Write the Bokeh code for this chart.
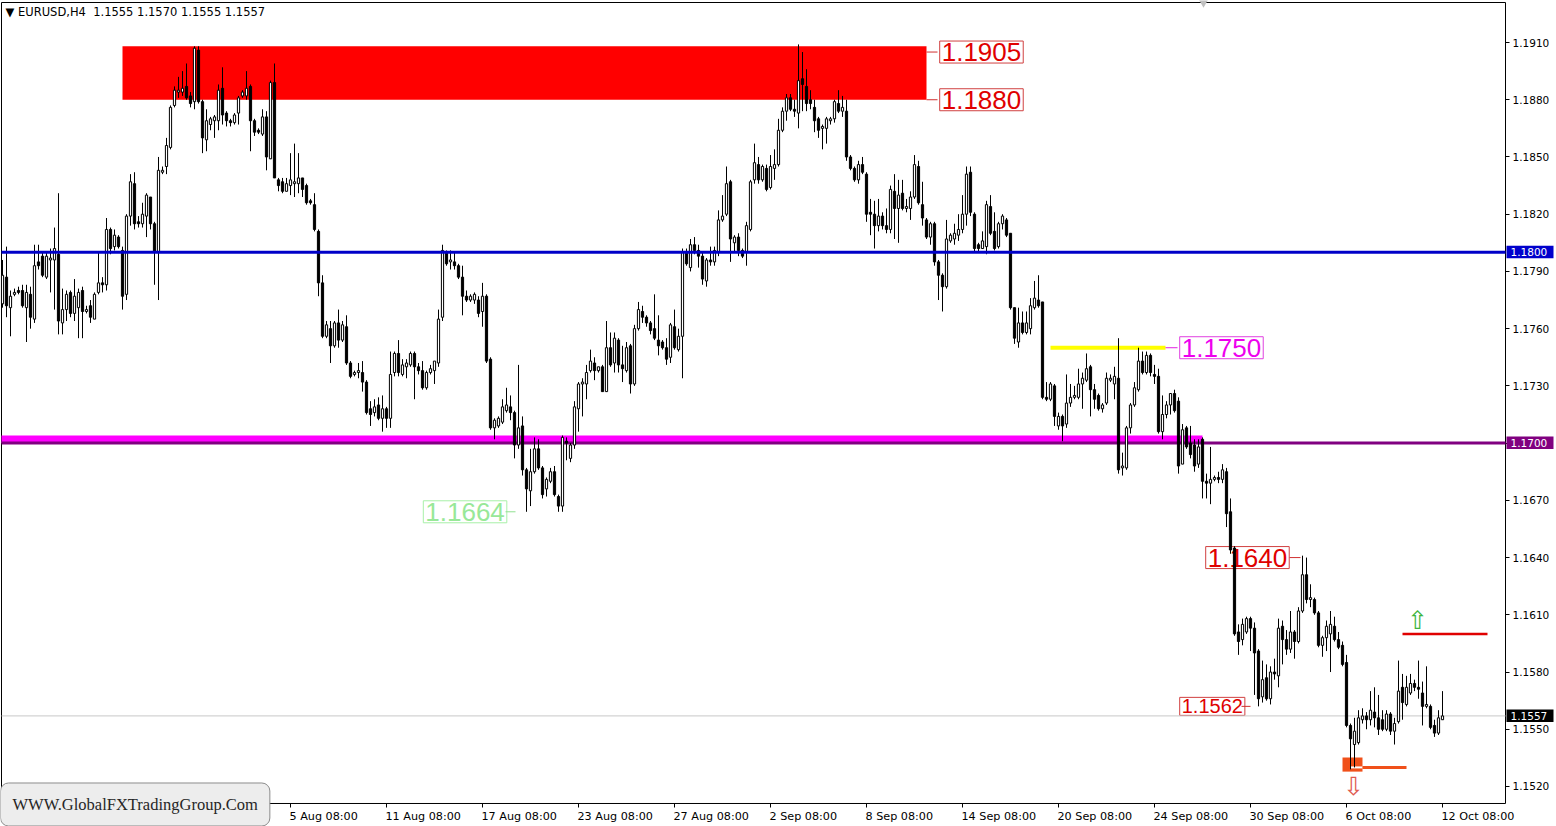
from bokeh.plotting import figure
from bokeh.models import (Range1d, FixedTicker, PrintfTickFormatter, Label, LabelSet,
                          ColumnDataSource)
from bokeh.core.properties import value
from bokeh.embed import file_html
from bokeh.resources import INLINE

# ---------------- data (EURUSD H4) ----------------
opens = [
    1.1773, 1.1787, 1.1771, 1.1778, 1.1780, 1.1780, 1.1771, 1.1778, 1.1765, 1.1795,
    1.1798, 1.1787, 1.1796, 1.1796, 1.1799, 1.1763, 1.1770, 1.1779, 1.1768, 1.1771,
    1.1780, 1.1769, 1.1772, 1.1765, 1.1779, 1.1784, 1.1783, 1.1812, 1.1803, 1.1808,
    1.1801, 1.1778, 1.1819, 1.1836, 1.1816, 1.1815, 1.1819, 1.1829, 1.1815, 1.1800,
    1.1842, 1.1845, 1.1855, 1.1877, 1.1884, 1.1884, 1.1887, 1.1882, 1.1879, 1.1906,
    1.1879, 1.1859, 1.1867, 1.1869, 1.1869, 1.1886, 1.1873, 1.1869, 1.1868, 1.1873,
    1.1882, 1.1882, 1.1887, 1.1869, 1.1864, 1.1862, 1.1871, 1.1849, 1.1889, 1.1838,
    1.1837, 1.1832, 1.1835, 1.1836, 1.1836, 1.1839, 1.1835, 1.1827, 1.1825, 1.1811,
    1.1784, 1.1756, 1.1760, 1.1751, 1.1763, 1.1754, 1.1761, 1.1742, 1.1736, 1.1737,
    1.1737, 1.1732, 1.1718, 1.1716, 1.1720, 1.1713, 1.1718, 1.1713, 1.1737, 1.1747,
    1.1736, 1.1740, 1.1741, 1.1747, 1.1740, 1.1738, 1.1729, 1.1737, 1.1738, 1.1742,
    1.1766, 1.1800, 1.1795, 1.1795, 1.1793, 1.1787, 1.1777, 1.1775, 1.1775, 1.1775,
    1.1769, 1.1777, 1.1744, 1.1708, 1.1709, 1.1711, 1.1717, 1.1719, 1.1716, 1.1699,
    1.1709, 1.1686, 1.1675, 1.1685, 1.1697, 1.1687, 1.1676, 1.1680, 1.1685, 1.1672,
    1.1667, 1.1701, 1.1692, 1.1699, 1.1718, 1.1731, 1.1731, 1.1738, 1.1742, 1.1738,
    1.1740, 1.1727, 1.1750, 1.1742, 1.1754, 1.1741, 1.1738, 1.1751, 1.1731, 1.1760,
    1.1769, 1.1766, 1.1763, 1.1760, 1.1754, 1.1753, 1.1750, 1.1745, 1.1761, 1.1749,
    1.1756, 1.1800, 1.1792, 1.1804, 1.1801, 1.1798, 1.1785, 1.1796, 1.1795, 1.1800,
    1.1817, 1.1820, 1.1837, 1.1805, 1.1808, 1.1801, 1.1800, 1.1812, 1.1838, 1.1846,
    1.1838, 1.1844, 1.1834, 1.1844, 1.1846, 1.1864, 1.1874, 1.1881, 1.1875, 1.1873,
    1.1891, 1.1887, 1.1880, 1.1876, 1.1870, 1.1865, 1.1865, 1.1869, 1.1870, 1.1878,
    1.1874, 1.1874, 1.1850, 1.1844, 1.1838, 1.1846, 1.1841, 1.1821, 1.1820, 1.1814,
    1.1819, 1.1814, 1.1812, 1.1832, 1.1823, 1.1831, 1.1823, 1.1823, 1.1829, 1.1845,
    1.1825, 1.1817, 1.1808, 1.1815, 1.1795, 1.1788, 1.1782, 1.1806, 1.1807, 1.1809,
    1.1812, 1.1820, 1.1842, 1.1820, 1.1804, 1.1802, 1.1803, 1.1824, 1.1811, 1.1803,
    1.1815, 1.1817, 1.1810, 1.1771, 1.1753, 1.1763, 1.1758, 1.1760, 1.1771, 1.1775,
    1.1774, 1.1724, 1.1723, 1.1730, 1.1709, 1.1714, 1.1710, 1.1721, 1.1724, 1.1724,
    1.1731, 1.1733, 1.1740, 1.1728, 1.1725, 1.1718, 1.1721, 1.1733, 1.1731, 1.1734,
    1.1687, 1.1687, 1.1708, 1.1720, 1.1728, 1.1743, 1.1737, 1.1746, 1.1736, 1.1735,
    1.1706, 1.1715, 1.1720, 1.1726, 1.1722, 1.1689, 1.1708, 1.1700, 1.1699, 1.1689,
    1.1702, 1.1680, 1.1679, 1.1681, 1.1682, 1.1681, 1.1685, 1.1664, 1.1645, 1.1601,
    1.1597, 1.1601, 1.1608, 1.1603, 1.1591, 1.1567, 1.1577, 1.1566, 1.1580, 1.1578,
    1.1604, 1.1597, 1.1592, 1.1601, 1.1596, 1.1612, 1.1631, 1.1618, 1.1618, 1.1611,
    1.1594, 1.1598, 1.1600, 1.1604, 1.1597, 1.1594, 1.1585, 1.1552, 1.1542, 1.1543,
    1.1555, 1.1557, 1.1555, 1.1559, 1.1556, 1.1555, 1.1550, 1.1558, 1.1549, 1.1554,
    1.1572, 1.1563, 1.1569, 1.1574, 1.1572, 1.1569, 1.1562, 1.1562, 1.1552, 1.1548,
    1.1555,
]
highs = [
    1.1796, 1.1803, 1.1780, 1.1781, 1.1782, 1.1783, 1.1783, 1.1782, 1.1804, 1.1804,
    1.1800, 1.1800, 1.1802, 1.1813, 1.1831, 1.1781, 1.1780, 1.1780, 1.1786, 1.1781,
    1.1782, 1.1772, 1.1775, 1.1779, 1.1800, 1.1787, 1.1818, 1.1813, 1.1812, 1.1809,
    1.1803, 1.1820, 1.1841, 1.1842, 1.1819, 1.1826, 1.1831, 1.1829, 1.1816, 1.1850,
    1.1845, 1.1860, 1.1877, 1.1887, 1.1892, 1.1895, 1.1899, 1.1884, 1.1908, 1.1908,
    1.1880, 1.1875, 1.1871, 1.1872, 1.1888, 1.1897, 1.1874, 1.1870, 1.1873, 1.1882,
    1.1885, 1.1895, 1.1888, 1.1870, 1.1865, 1.1875, 1.1874, 1.1890, 1.1899, 1.1839,
    1.1839, 1.1839, 1.1852, 1.1857, 1.1852, 1.1839, 1.1836, 1.1828, 1.1831, 1.1812,
    1.1788, 1.1764, 1.1764, 1.1764, 1.1770, 1.1764, 1.1767, 1.1743, 1.1738, 1.1742,
    1.1743, 1.1733, 1.1722, 1.1723, 1.1724, 1.1725, 1.1719, 1.1748, 1.1748, 1.1754,
    1.1744, 1.1744, 1.1748, 1.1748, 1.1742, 1.1743, 1.1738, 1.1741, 1.1743, 1.1770,
    1.1804, 1.1801, 1.1801, 1.1800, 1.1794, 1.1793, 1.1780, 1.1778, 1.1779, 1.1777,
    1.1784, 1.1778, 1.1745, 1.1713, 1.1714, 1.1723, 1.1729, 1.1725, 1.1717, 1.1741,
    1.1714, 1.1687, 1.1697, 1.1703, 1.1702, 1.1688, 1.1682, 1.1687, 1.1688, 1.1673,
    1.1704, 1.1703, 1.1700, 1.1722, 1.1732, 1.1734, 1.1741, 1.1749, 1.1745, 1.1740,
    1.1741, 1.1764, 1.1758, 1.1758, 1.1755, 1.1751, 1.1753, 1.1752, 1.1762, 1.1774,
    1.1772, 1.1767, 1.1764, 1.1778, 1.1767, 1.1754, 1.1755, 1.1763, 1.1770, 1.1760,
    1.1802, 1.1802, 1.1807, 1.1808, 1.1804, 1.1800, 1.1797, 1.1803, 1.1803, 1.1822,
    1.1830, 1.1845, 1.1838, 1.1809, 1.1810, 1.1802, 1.1816, 1.1838, 1.1857, 1.1850,
    1.1846, 1.1846, 1.1851, 1.1854, 1.1870, 1.1876, 1.1883, 1.1883, 1.1880, 1.1909,
    1.1905, 1.1896, 1.1885, 1.1880, 1.1871, 1.1867, 1.1871, 1.1871, 1.1880, 1.1885,
    1.1882, 1.1880, 1.1851, 1.1845, 1.1848, 1.1850, 1.1842, 1.1828, 1.1827, 1.1828,
    1.1821, 1.1823, 1.1835, 1.1841, 1.1838, 1.1838, 1.1828, 1.1832, 1.1851, 1.1848,
    1.1837, 1.1818, 1.1816, 1.1816, 1.1796, 1.1789, 1.1817, 1.1810, 1.1815, 1.1820,
    1.1830, 1.1845, 1.1845, 1.1821, 1.1805, 1.1811, 1.1827, 1.1830, 1.1821, 1.1816,
    1.1820, 1.1818, 1.1810, 1.1771, 1.1771, 1.1769, 1.1769, 1.1776, 1.1785, 1.1788,
    1.1774, 1.1732, 1.1732, 1.1731, 1.1716, 1.1715, 1.1736, 1.1731, 1.1730, 1.1739,
    1.1737, 1.1747, 1.1741, 1.1731, 1.1726, 1.1721, 1.1737, 1.1736, 1.1740, 1.1755,
    1.1695, 1.1709, 1.1721, 1.1732, 1.1750, 1.1748, 1.1748, 1.1747, 1.1741, 1.1739,
    1.1725, 1.1722, 1.1726, 1.1728, 1.1724, 1.1710, 1.1709, 1.1709, 1.1702, 1.1702,
    1.1703, 1.1684, 1.1698, 1.1683, 1.1685, 1.1689, 1.1687, 1.1671, 1.1646, 1.1605,
    1.1608, 1.1609, 1.1609, 1.1606, 1.1592, 1.1586, 1.1584, 1.1583, 1.1587, 1.1608,
    1.1607, 1.1602, 1.1612, 1.1602, 1.1614, 1.1641, 1.1640, 1.1626, 1.1619, 1.1612,
    1.1599, 1.1607, 1.1612, 1.1609, 1.1601, 1.1596, 1.1589, 1.1553, 1.1556, 1.1560,
    1.1561, 1.1559, 1.1570, 1.1572, 1.1568, 1.1560, 1.1560, 1.1559, 1.1556, 1.1586,
    1.1579, 1.1578, 1.1579, 1.1576, 1.1586, 1.1575, 1.1583, 1.1563, 1.1555, 1.1560,
    1.1570,
]
lows = [
    1.1771, 1.1766, 1.1756, 1.1777, 1.1778, 1.1771, 1.1753, 1.1760, 1.1763, 1.1791,
    1.1787, 1.1786, 1.1779, 1.1770, 1.1757, 1.1757, 1.1764, 1.1766, 1.1764, 1.1755,
    1.1755, 1.1768, 1.1763, 1.1765, 1.1778, 1.1779, 1.1780, 1.1799, 1.1801, 1.1802,
    1.1770, 1.1775, 1.1814, 1.1812, 1.1813, 1.1813, 1.1808, 1.1812, 1.1783, 1.1775,
    1.1841, 1.1841, 1.1854, 1.1876, 1.1881, 1.1882, 1.1880, 1.1876, 1.1875, 1.1878,
    1.1852, 1.1853, 1.1864, 1.1860, 1.1864, 1.1867, 1.1866, 1.1866, 1.1867, 1.1867,
    1.1881, 1.1880, 1.1853, 1.1861, 1.1862, 1.1861, 1.1843, 1.1849, 1.1839, 1.1832,
    1.1831, 1.1832, 1.1830, 1.1829, 1.1831, 1.1829, 1.1825, 1.1825, 1.1811, 1.1777,
    1.1755, 1.1755, 1.1742, 1.1750, 1.1750, 1.1753, 1.1741, 1.1734, 1.1735, 1.1734,
    1.1727, 1.1715, 1.1709, 1.1714, 1.1712, 1.1706, 1.1708, 1.1708, 1.1735, 1.1735,
    1.1735, 1.1734, 1.1740, 1.1723, 1.1736, 1.1728, 1.1728, 1.1736, 1.1731, 1.1740,
    1.1764, 1.1793, 1.1791, 1.1791, 1.1786, 1.1767, 1.1774, 1.1774, 1.1773, 1.1766,
    1.1761, 1.1742, 1.1707, 1.1702, 1.1708, 1.1710, 1.1716, 1.1712, 1.1692, 1.1697,
    1.1683, 1.1664, 1.1667, 1.1684, 1.1686, 1.1671, 1.1672, 1.1679, 1.1672, 1.1664,
    1.1664, 1.1691, 1.1690, 1.1697, 1.1706, 1.1714, 1.1723, 1.1737, 1.1733, 1.1737,
    1.1727, 1.1727, 1.1740, 1.1737, 1.1737, 1.1732, 1.1737, 1.1726, 1.1730, 1.1759,
    1.1763, 1.1761, 1.1757, 1.1754, 1.1746, 1.1749, 1.1741, 1.1742, 1.1749, 1.1748,
    1.1734, 1.1793, 1.1790, 1.1799, 1.1792, 1.1783, 1.1782, 1.1793, 1.1793, 1.1798,
    1.1816, 1.1819, 1.1795, 1.1800, 1.1798, 1.1797, 1.1793, 1.1811, 1.1836, 1.1836,
    1.1837, 1.1832, 1.1833, 1.1838, 1.1845, 1.1863, 1.1869, 1.1874, 1.1871, 1.1865,
    1.1874, 1.1874, 1.1875, 1.1863, 1.1860, 1.1854, 1.1857, 1.1867, 1.1868, 1.1873,
    1.1871, 1.1848, 1.1843, 1.1837, 1.1836, 1.1841, 1.1816, 1.1809, 1.1802, 1.1811,
    1.1812, 1.1810, 1.1810, 1.1807, 1.1805, 1.1822, 1.1821, 1.1817, 1.1828, 1.1825,
    1.1814, 1.1807, 1.1804, 1.1793, 1.1775, 1.1769, 1.1781, 1.1805, 1.1804, 1.1806,
    1.1810, 1.1814, 1.1819, 1.1800, 1.1800, 1.1802, 1.1799, 1.1809, 1.1801, 1.1802,
    1.1812, 1.1808, 1.1770, 1.1752, 1.1750, 1.1757, 1.1757, 1.1757, 1.1770, 1.1771,
    1.1723, 1.1722, 1.1722, 1.1709, 1.1707, 1.1701, 1.1708, 1.1719, 1.1723, 1.1723,
    1.1718, 1.1732, 1.1714, 1.1718, 1.1717, 1.1716, 1.1720, 1.1732, 1.1723, 1.1684,
    1.1683, 1.1686, 1.1705, 1.1719, 1.1727, 1.1736, 1.1736, 1.1735, 1.1731, 1.1705,
    1.1702, 1.1713, 1.1715, 1.1716, 1.1684, 1.1689, 1.1697, 1.1692, 1.1685, 1.1687,
    1.1671, 1.1671, 1.1668, 1.1680, 1.1679, 1.1679, 1.1656, 1.1642, 1.1599, 1.1589,
    1.1594, 1.1600, 1.1591, 1.1568, 1.1562, 1.1564, 1.1565, 1.1563, 1.1576, 1.1572,
    1.1584, 1.1589, 1.1590, 1.1587, 1.1595, 1.1611, 1.1616, 1.1614, 1.1610, 1.1593,
    1.1588, 1.1591, 1.1580, 1.1596, 1.1592, 1.1583, 1.1551, 1.1529, 1.1530, 1.1542,
    1.1553, 1.1550, 1.1552, 1.1551, 1.1547, 1.1549, 1.1549, 1.1547, 1.1542, 1.1553,
    1.1555, 1.1562, 1.1568, 1.1570, 1.1566, 1.1552, 1.1561, 1.1550, 1.1546, 1.1547,
    1.1555,
]
closes = [
    1.1788, 1.1772, 1.1777, 1.1779, 1.1779, 1.1772, 1.1779, 1.1766, 1.1793, 1.1793,
    1.1788, 1.1798, 1.1797, 1.1802, 1.1764, 1.1770, 1.1778, 1.1768, 1.1777, 1.1779,
    1.1769, 1.1770, 1.1766, 1.1778, 1.1784, 1.1783, 1.1812, 1.1802, 1.1809, 1.1803,
    1.1777, 1.1819, 1.1837, 1.1815, 1.1815, 1.1820, 1.1830, 1.1815, 1.1800, 1.1843,
    1.1843, 1.1856, 1.1876, 1.1885, 1.1885, 1.1886, 1.1881, 1.1878, 1.1907, 1.1879,
    1.1860, 1.1869, 1.1870, 1.1871, 1.1885, 1.1872, 1.1869, 1.1868, 1.1872, 1.1881,
    1.1884, 1.1886, 1.1869, 1.1863, 1.1863, 1.1871, 1.1850, 1.1889, 1.1839, 1.1835,
    1.1832, 1.1836, 1.1838, 1.1837, 1.1839, 1.1833, 1.1826, 1.1826, 1.1812, 1.1784,
    1.1756, 1.1762, 1.1751, 1.1763, 1.1754, 1.1762, 1.1742, 1.1735, 1.1737, 1.1738,
    1.1732, 1.1716, 1.1715, 1.1719, 1.1713, 1.1718, 1.1713, 1.1736, 1.1747, 1.1737,
    1.1741, 1.1742, 1.1747, 1.1740, 1.1738, 1.1729, 1.1737, 1.1739, 1.1743, 1.1765,
    1.1801, 1.1794, 1.1796, 1.1793, 1.1787, 1.1777, 1.1775, 1.1777, 1.1778, 1.1768,
    1.1777, 1.1743, 1.1708, 1.1712, 1.1713, 1.1719, 1.1720, 1.1716, 1.1699, 1.1708,
    1.1686, 1.1676, 1.1685, 1.1697, 1.1687, 1.1673, 1.1681, 1.1685, 1.1673, 1.1667,
    1.1703, 1.1700, 1.1699, 1.1719, 1.1731, 1.1732, 1.1737, 1.1743, 1.1738, 1.1740,
    1.1727, 1.1750, 1.1741, 1.1755, 1.1741, 1.1739, 1.1750, 1.1731, 1.1760, 1.1770,
    1.1766, 1.1763, 1.1759, 1.1755, 1.1751, 1.1750, 1.1744, 1.1762, 1.1750, 1.1756,
    1.1800, 1.1794, 1.1804, 1.1801, 1.1798, 1.1786, 1.1796, 1.1795, 1.1801, 1.1817,
    1.1819, 1.1836, 1.1807, 1.1808, 1.1801, 1.1798, 1.1814, 1.1837, 1.1847, 1.1838,
    1.1845, 1.1833, 1.1845, 1.1846, 1.1864, 1.1874, 1.1881, 1.1875, 1.1874, 1.1890,
    1.1888, 1.1878, 1.1878, 1.1869, 1.1864, 1.1866, 1.1870, 1.1870, 1.1879, 1.1874,
    1.1876, 1.1850, 1.1844, 1.1838, 1.1846, 1.1842, 1.1820, 1.1820, 1.1814, 1.1819,
    1.1814, 1.1812, 1.1833, 1.1823, 1.1830, 1.1823, 1.1824, 1.1829, 1.1846, 1.1826,
    1.1818, 1.1808, 1.1815, 1.1795, 1.1788, 1.1782, 1.1807, 1.1809, 1.1810, 1.1812,
    1.1820, 1.1841, 1.1821, 1.1802, 1.1802, 1.1806, 1.1825, 1.1810, 1.1802, 1.1815,
    1.1819, 1.1809, 1.1771, 1.1755, 1.1763, 1.1758, 1.1763, 1.1772, 1.1776, 1.1772,
    1.1724, 1.1723, 1.1731, 1.1714, 1.1714, 1.1709, 1.1721, 1.1724, 1.1725, 1.1731,
    1.1734, 1.1739, 1.1728, 1.1723, 1.1718, 1.1720, 1.1734, 1.1734, 1.1735, 1.1686,
    1.1688, 1.1708, 1.1720, 1.1729, 1.1743, 1.1737, 1.1746, 1.1737, 1.1735, 1.1706,
    1.1715, 1.1720, 1.1726, 1.1717, 1.1688, 1.1707, 1.1698, 1.1694, 1.1688, 1.1698,
    1.1680, 1.1679, 1.1681, 1.1682, 1.1681, 1.1686, 1.1663, 1.1644, 1.1600, 1.1596,
    1.1605, 1.1608, 1.1603, 1.1590, 1.1566, 1.1576, 1.1566, 1.1580, 1.1579, 1.1603,
    1.1597, 1.1592, 1.1601, 1.1596, 1.1612, 1.1631, 1.1618, 1.1619, 1.1611, 1.1594,
    1.1598, 1.1604, 1.1605, 1.1597, 1.1593, 1.1584, 1.1552, 1.1545, 1.1549, 1.1556,
    1.1557, 1.1555, 1.1560, 1.1556, 1.1550, 1.1550, 1.1558, 1.1549, 1.1553, 1.1570,
    1.1564, 1.1572, 1.1574, 1.1572, 1.1571, 1.1562, 1.1563, 1.1551, 1.1548, 1.1556,
    1.1557,
]

date_tick_bars = [72, 96, 120, 144, 168, 192, 216, 240, 264, 288, 312, 336, 360]
date_tick_labels = ["5 Aug 08:00", "11 Aug 08:00", "17 Aug 08:00", "23 Aug 08:00",
                    "27 Aug 08:00", "2 Sep 08:00", "8 Sep 08:00", "14 Sep 08:00",
                    "20 Sep 08:00", "24 Sep 08:00", "30 Sep 08:00", "6 Oct 08:00",
                    "12 Oct 08:00"]
price_ticks = [1.1520, 1.1550, 1.1580, 1.1610, 1.1640, 1.1670, 1.1700, 1.1730,
               1.1760, 1.1790, 1.1820, 1.1850, 1.1880, 1.1910]

symbol = "EURUSD,H4"
last_ohlc = [1.1555, 1.1570, 1.1555, 1.1557]

zone_levels = [1.1905, 1.1880]       # labelled resistance zone
zone_top = 1.1908
level_blue = 1.1800
level_purple = 1.1700
level_yellow = 1.1750
level_1664 = 1.1664
level_1640 = 1.1640
level_1562 = 1.1562
level_buy = 1.1600
level_sell = 1.1530
last_price = 1.1557

# ---------------- geometry ----------------
# the Bokeh frame covers the whole canvas; the chart box and its axes sit inside it
XL, XR = -0.5, 388.5                 # canvas edges in bar units
YB, YT = 1.149903, 1.193202          # canvas edges in price units
BOX_L, BOX_R = -0.25, 375.75         # chart box
BOX_B, BOX_T = 1.151109, 1.193097
FONT = "DejaVu Sans"
PX = 0.000052419                     # price per screen pixel

p = figure(width=1556, height=826, x_range=Range1d(XL, XR), y_range=Range1d(YB, YT),
           output_backend="svg", toolbar_location=None, y_axis_location="right",
           min_border_left=0, min_border_top=0, min_border_right=0, min_border_bottom=0)
p.background_fill_color = "white"
p.border_fill_color = "white"
p.outline_line_color = None
p.grid.visible = False

yax = p.yaxis[0]
yax.fixed_location = BOX_R
yax.level = "underlay"
yax.ticker = FixedTicker(ticks=price_ticks)
yax.formatter = PrintfTickFormatter(format="%.4f")
yax.major_label_text_font = FONT
yax.major_label_text_font_size = "10.5px"
yax.major_label_text_color = "black"
yax.major_tick_out = 4
yax.major_tick_in = 0
yax.minor_tick_out = 0
yax.minor_tick_in = 0
yax.major_label_standoff = 3
yax.axis_line_color = None
yax.major_tick_line_color = "black"

xax = p.xaxis[0]
xax.fixed_location = BOX_B
xax.level = "underlay"
xax.ticker = FixedTicker(ticks=date_tick_bars)
xax.major_label_overrides = {b: "" for b in date_tick_bars}
xax.major_tick_out = 4
xax.major_tick_in = 0
xax.minor_tick_out = 0
xax.minor_tick_in = 0
xax.axis_line_color = None
xax.major_tick_line_color = "black"

# chart box
p.quad(left=[BOX_L], right=[BOX_R], bottom=[BOX_B], top=[BOX_T],
       fill_color=None, line_color="black", line_width=1)

# ---------------- background objects ----------------
p.quad(left=[30], right=[231], bottom=[zone_levels[1]], top=[zone_top],
       fill_color="#FF0000", line_color=None)
p.quad(left=[BOX_L], right=[300], bottom=[level_purple], top=[level_purple + 0.0004],
       fill_color="#FF00FF", line_color=None)
p.segment(x0=[BOX_L, BOX_L], x1=[BOX_R, BOX_R], y0=[level_purple, last_price],
          y1=[level_purple, last_price], line_color=["#800080", "#C8C8C8"],
          line_width=[3, 1])
p.segment(x0=[262], x1=[290.75], y0=[level_yellow], y1=[level_yellow],
          line_color="#FFFF00", line_width=4)
p.segment(x0=[350], x1=[371.25], y0=[level_buy], y1=[level_buy],
          line_color="#E00000", line_width=2.5)
p.quad(left=[335], right=[340], bottom=[level_sell - 0.00022], top=[level_sell + 0.00052],
       fill_color="#F0501A", line_color=None)
p.segment(x0=[337], x1=[340], y0=[level_sell], y1=[level_sell],
          line_color="white", line_width=2)
p.segment(x0=[340], x1=[351], y0=[level_sell], y1=[level_sell],
          line_color="#F0501A", line_width=3)

# leader lines
p.segment(x0=[231, 231, 290.75, 125.75, 321.75, 309.75],
          x1=[233.75, 233.75, 293.75, 128.25, 324.5, 312.0],
          y0=[zone_levels[0], zone_levels[1], level_yellow, level_1664, level_1640, level_1562],
          y1=[zone_levels[0], zone_levels[1], level_yellow, level_1664, level_1640, level_1562],
          line_color=["#D03030", "#D03030", "#E020E0", "#90E090", "#D03030", "#D03030"],
          line_width=1)

def boxed(x, y, txt, color, border, size):
    p.add_layout(Label(x=x, y=y, text=txt, text_color=color, text_font="Liberation Sans",
                       text_font_size=size, text_align="left", text_baseline="middle",
                       border_line_color=border, border_line_width=1, padding=2,
                       level="underlay"))

boxed(234.3, zone_levels[0], f"{zone_levels[0]:.4f}", "#E00000", "#D04040", "26px")
boxed(234.3, zone_levels[1], f"{zone_levels[1]:.4f}", "#E00000", "#D04040", "26px")
boxed(294.3, level_yellow, f"{level_yellow:.4f}", "#EE00EE", "#E040E0", "26px")
boxed(105.2, level_1664, f"{level_1664:.4f}", "#98E898", "#A8F0A8", "26px")
boxed(300.8, level_1640, f"{level_1640:.4f}", "#E00000", "#D04040", "26px")
boxed(294.3, level_1562, f"{level_1562:.4f}", "#E00000", "#D04040", "20px")

# ---------------- candles ----------------
idx = list(range(len(opens)))
up = [i for i in idx if closes[i] >= opens[i]]
dn = [i for i in idx if closes[i] < opens[i]]
p.segment(x0="x", y0="h", x1="x", y1="l",
          source=ColumnDataSource(dict(x=idx, h=highs, l=lows)),
          line_color="black", line_width=1)
p.vbar(x="x", top="t", bottom="b", width=0.55,
       source=ColumnDataSource(dict(x=up, t=[closes[i] for i in up], b=[opens[i] for i in up])),
       fill_color="white", line_color="black", line_width=1)
p.vbar(x="x", top="t", bottom="b", width=0.55,
       source=ColumnDataSource(dict(x=dn, t=[opens[i] for i in dn], b=[closes[i] for i in dn])),
       fill_color="black", line_color="black", line_width=1)

# blue level drawn over the candles
p.segment(x0=[BOX_L], x1=[BOX_R], y0=[level_blue], y1=[level_blue],
          line_color="#0000C8", line_width=3)

# arrows
p.text(x=[353.75], y=[1.1607], text=["\u21e7"], text_color="#3CB43C",
       text_font=value(FONT), text_font_size="25px", text_align="center",
       text_baseline="middle")
p.text(x=[337.75], y=[1.1520], text=["\u21e9"], text_color="#E05A50",
       text_font=value(FONT), text_font_size="25px", text_align="center",
       text_baseline="middle")

# chart shift marker
p.scatter(x=[300.25], y=[YT - 2 * PX], marker="inverted_triangle", size=9,
          fill_color="#C0C0C0", line_color=None)

# header
hdr = "\u25bc " + symbol + "\u00a0\u00a0" + " ".join(f"{v:.4f}" for v in last_ohlc)
p.text(x=[0.75], y=[1.192573], text=[hdr], text_font=value(FONT),
       text_font_size="11.5px", text_color="black", text_baseline="middle",
       text_align="left")

# right axis price tags
tag_levels = [level_blue, level_purple, last_price]
tag_colors = ["#0000CC", "#800080", "#000000"]
p.quad(left=[376.0] * 3, right=[387.75] * 3,
       bottom=[v - 6 * PX for v in tag_levels], top=[v + 6.5 * PX for v in tag_levels],
       fill_color=tag_colors, line_color=None)
p.text(x=[377.0] * 3, y=tag_levels, text=[f"{v:.4f}" for v in tag_levels],
       text_font=value(FONT), text_font_size="10.5px", text_color="white",
       text_baseline="middle", text_align="left")

# date labels (left aligned on their ticks, as in the terminal)
p.add_layout(LabelSet(x="x", y="y", text="t",
                      source=ColumnDataSource(dict(x=date_tick_bars,
                                                   y=[BOX_B - 7 * PX] * len(date_tick_bars),
                                                   t=date_tick_labels)),
                      text_font=value(FONT), text_font_size="11.2px", text_color="black",
                      text_align="left", text_baseline="top", x_offset=-1))

# watermark
for dx, bg, alpha in [(4, "#5A5A5A", 0.0), (0, "#EDEDED", 1.0)]:
    p.add_layout(Label(x=-0.5, y=1.151057, x_offset=dx, y_offset=-3 if dx else 0,
                       text="WWW.GlobalFXTradingGroup.Com", text_font="Liberation Serif",
                       text_font_size="16.5px", text_color="#262626", text_alpha=alpha,
                       text_align="left", text_baseline="middle",
                       background_fill_color=bg, border_line_color="#8C8C8C",
                       border_radius=8, padding=12, level="overlay"))

open("out.html", "w").write(file_html(p, INLINE))
